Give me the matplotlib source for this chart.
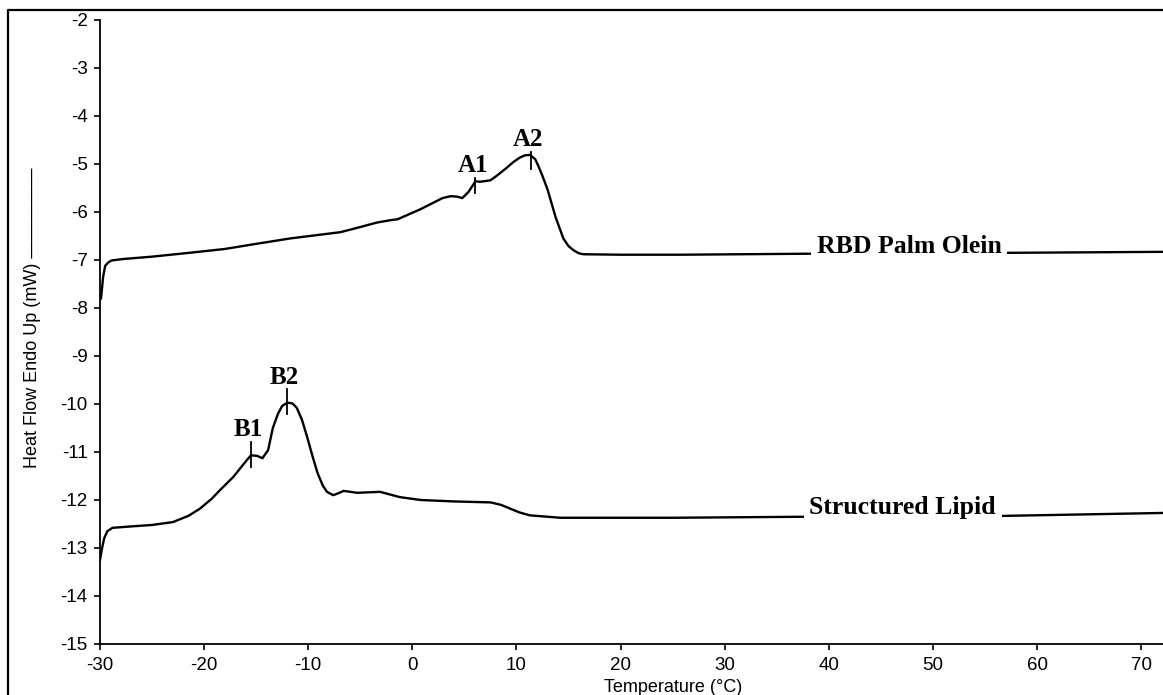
import matplotlib
matplotlib.use("Agg")
import matplotlib.pyplot as plt
from matplotlib.lines import Line2D

# RBD palm olein DSC trace (upper curve)
olein_temp = [-29.9, -29.7, -29.5, -29.2, -28.9, -27.8, -25.0, -21.4, -18.0, -14.9,
              -11.7, -6.9, -5.3, -3.4, -2.1, -1.4, 0.8, 2.9, 3.7, 4.3, 4.8,
              5.4, 6.06, 6.5, 7.5, 8.2, 9.0, 9.7, 10.3, 10.8, 11.3, 11.8, 12.1, 12.5, 13.0,
              13.75, 14.5, 15.0, 15.5, 16.0, 16.4, 20.0, 25.8, 37.5, 57.7, 72.1]
olein_flow = [-7.80, -7.35, -7.12, -7.05, -7.01, -6.98, -6.93, -6.85, -6.77, -6.66,
              -6.55, -6.42, -6.33, -6.22, -6.17, -6.15, -5.94, -5.71, -5.67, -5.68, -5.71,
              -5.58, -5.36, -5.37, -5.34, -5.23, -5.09, -4.96, -4.87, -4.82, -4.81, -4.90, -5.04, -5.25, -5.54,
              -6.10, -6.55, -6.71, -6.80, -6.86, -6.88, -6.89, -6.89, -6.87, -6.85, -6.83]

# structured lipid DSC trace (lower curve)
lipid_temp = [-30.0, -29.8, -29.6, -29.3, -28.8, -27.0, -25.0, -23.0, -21.5, -20.4,
              -19.3, -18.5, -17.2, -15.9, -15.5, -14.9, -14.4, -13.85, -13.4, -12.9,
              -12.5, -12.0, -11.5, -11.1, -10.6, -10.1, -9.6, -9.1, -8.6, -8.2, -7.6,
              -7.0, -6.6, -5.3, -3.1, -1.2, 0.8, 4.0, 7.5, 8.5, 9.4, 10.3, 11.3,
              14.2, 25.0, 37.0, 57.0, 72.1]
lipid_flow = [-13.25, -13.0, -12.8, -12.65, -12.58, -12.55, -12.52, -12.46, -12.33, -12.18,
              -11.98, -11.80, -11.52, -11.17, -11.07, -11.08, -11.13, -10.96, -10.50, -10.20,
              -10.04, -9.97, -9.99, -10.08, -10.33, -10.69, -11.08, -11.44, -11.70, -11.83, -11.90,
              -11.85, -11.81, -11.85, -11.83, -11.94, -12.0, -12.03, -12.05, -12.10, -12.18, -12.26, -12.32,
              -12.37, -12.37, -12.35, -12.33, -12.27]

# peak markers
peak_names = ["A1", "A2", "B1", "B2"]
peak_temp = [6.06, 11.35, -15.5, -12.0]
peak_top = [-5.29, -4.75, -10.79, -9.69]
peak_bottom = [-5.60, -5.10, -11.31, -10.21]

curve_names = ["RBD Palm Olein", "Structured Lipid"]
curve_label_x = [47.7, 47.1]
curve_label_y = [-6.86, -12.30]

x_ticks = [-30, -20, -10, 0, 10, 20, 30, 40, 50, 60, 70]
y_ticks = [-2, -3, -4, -5, -6, -7, -8, -9, -10, -11, -12, -13, -14, -15]

W, H = 1163, 695
sans = ["Liberation Sans", "DejaVu Sans"]
serif = ["Liberation Serif", "DejaVu Serif"]

fig = plt.figure(figsize=(W / 100, H / 100), dpi=100)
ax = fig.add_axes([100 / W, 1 - 644 / H, 1 - 100 / W, (644 - 20) / H])

ax.plot(olein_temp, olein_flow, color="black", lw=1.7)
ax.plot(lipid_temp, lipid_flow, color="black", lw=1.7)

for name, t, top, bot in zip(peak_names, peak_temp, peak_top, peak_bottom):
    ax.plot([t, t], [bot, top], color="black", lw=1.3)
    ax.annotate(name, (t, top), xytext=(-2, 4), textcoords="offset points",
                ha="center", va="baseline", family=serif, fontweight="bold",
                fontsize=18)

for name, lx, ly in zip(curve_names, curve_label_x, curve_label_y):
    ax.text(lx, ly, name, ha="center", va="baseline", family=serif,
            fontweight="bold", fontsize=18.5,
            bbox=dict(facecolor="white", edgecolor="none", pad=4))

ax.set_xlim(-30, 72.1)
ax.set_ylim(-15, -2)
ax.set_xticks(x_ticks)
ax.set_yticks(y_ticks)
ax.set_xticklabels([str(v) for v in x_ticks], family=sans, fontsize=13.5)
ax.set_yticklabels([str(v) for v in y_ticks], family=sans, fontsize=13.5)
ax.tick_params(direction="out", length=4, width=1.2, pad=5)
ax.spines["top"].set_visible(False)
ax.spines["right"].set_visible(False)
ax.spines["left"].set_linewidth(1.3)
ax.spines["bottom"].set_linewidth(1.3)

fig.text(673 / W, 1 - 687 / H, "Temperature (\u00b0C)", ha="center", va="center",
         family=sans, fontsize=13)
fig.text(33 / W, 1 - 318 / H, "Heat Flow Endo Up (mW) \u2014\u2014\u2014\u2014\u2014",
         rotation=90, ha="center", va="center", family=sans, fontsize=13)

# scanned page frame
fig.add_artist(Line2D([8 / W, 8 / W, 1.01], [-0.01, 1 - 10 / H, 1 - 10 / H],
                      transform=fig.transFigure, color="black", lw=1.6))

fig.savefig("out.png", dpi=100)
